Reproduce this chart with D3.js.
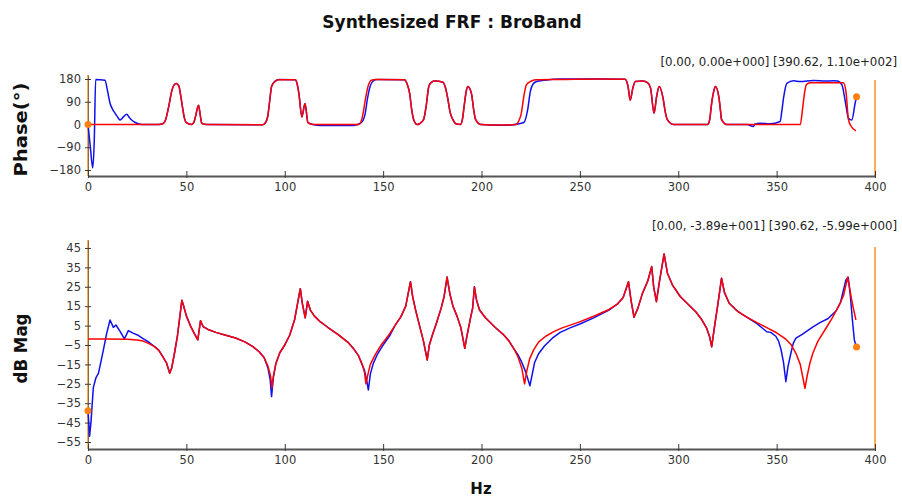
<!DOCTYPE html>
<html>
<head>
<meta charset="utf-8">
<script src="https://cdn.jsdelivr.net/npm/d3@7"></script>
<style>
  html, body { margin: 0; padding: 0; background: #fff; }
  svg { display: block; }
  text { font-family: "DejaVu Sans", Verdana, sans-serif; }
</style>
</head>
<body>
<svg id="chart" width="902" height="499"></svg>
<script>
// ---------- DATA ----------
const title = "Synthesized FRF : BroBand";
const xLabel = "Hz";
const phaseLabel = "Phase(°)";
const magLabel = "dB Mag";
const phaseCursorText = "[0.00, 0.00e+000] [390.62, 1.10e+002]";
const magCursorText = "[0.00, -3.89e+001] [390.62, -5.99e+000]";

const xTicks = [0, 50, 100, 150, 200, 250, 300, 350, 400];
const phaseTicks = [-180, -90, 0, 90, 180];
const magTicks = [-55, -45, -35, -25, -15, -5, 5, 15, 25, 35, 45];

// cursor points [Hz, value]
const phaseCursors = [[0, 0], [390.62, 110]];
const magCursors = [[0, -38.9], [390.62, -5.99]];

// Phase, synthesized (red) [Hz, deg]
const phaseRed = [[0,0],[36,0],[38,3],[39.5,20],[41,70],[42.5,130],[43.6,155],[44.9,162],[46.2,152],[47.2,110],[48,70],[49,25],[50,7],[52.6,0],[53.8,8],[54.6,30],[56.2,76],[57,40],[57.8,5],[60.4,0],
 [88.7,-1],[90,5],[91.3,30],[92.3,90],[93.3,150],[95.1,170],[97,177],[105.4,177],[106.3,160],[107.2,122],[108.7,30],[110.3,83],[111.8,7],[114.4,0],
 [137.7,0],[138.8,12],[139.8,43],[141,100],[142.3,150],[144.1,175],[146,178],[160.9,177],[162.2,160],[163.5,122],[164.5,60],[165.5,20],[167.3,0],[168.5,3],[170.6,20],[172,80],[173.2,150],[174.5,167],[176.3,172],[180.2,168],[181.5,150],[182.8,105],[184,50],[185.4,20],[187,3],[189.3,0],[190.3,20],[191.3,80],[192.2,130],[193.1,150],[194.9,122],[196,60],[197,20],[199.6,0],
 [210,-2],[217.6,0],[219,15],[220.2,43],[221.5,110],[222.8,157],[225.4,172],[228,177],[240,178],[260,180],[273,179],[274.5,150],[275.6,96],[276.8,140],[278.2,170],[282,172],[284.5,165],[285.9,145],[287.7,45],[289,110],[290.3,150],[292.3,103],[293.4,50],[294.4,20],[297.5,0],
 [315,0],[316,20],[316.9,80],[318,130],[318.9,150],[320.7,105],[321.4,60],[322,20],[324.6,0],
 [362,0],[363.3,70],[364.2,125],[365.1,157],[367,165],[383.9,165],[385.2,133],[386.5,20],[387.7,-5],[390.3,-25]];

// Phase, measured (blue) [Hz, deg]
const phaseBlue = [[0,0],[1.2,-90],[2.4,-172],[3.2,-60],[3.9,178],[8.6,175],[10,130],[11.2,84],[12.5,60],[13.7,45],[15,30],[16.3,18],[18,30],[19.7,41],[21,28],[22.2,18],[24,8],[26.5,1],[28,0],
 [36,0],[38,3],[39.5,20],[41,70],[42.5,130],[43.6,155],[44.9,162],[46.2,152],[47.2,110],[48,70],[49,25],[50,7],[52.6,0],[53.8,8],[54.6,30],[56.2,76],[57,40],[57.8,5],[60.4,0],
 [88.7,-1],[90,5],[91.3,30],[92.3,90],[93.3,150],[95.1,172],[97,178],[105.4,177],[106.3,160],[107.2,122],[108.7,30],[110.3,83],[111.8,7],[114.4,0],
 [118,-4],[135,-4],[138.5,5],[140,20],[140.8,40],[142,100],[143,140],[145,172],[147,178],[160.9,177],[162.2,160],[163.5,122],[164.5,60],[165.5,20],[167.3,0],[168.5,3],[170.6,20],[172,80],[173.2,150],[174.5,167],[176.3,172],[180.2,168],[181.5,150],[182.8,105],[184,50],[185.4,20],[187,3],[189.3,0],[190.3,20],[191.3,80],[192.2,130],[193.1,150],[194.9,122],[196,60],[197,20],[199.6,0],
 [210,-3],[215,-2],[219,3],[221.5,8],[223.5,60],[224.8,130],[226.2,160],[228,170],[232,175],[240,180],[260,180],[273,179],[274.5,150],[275.6,96],[276.8,140],[278.2,170],[282,172],[284.5,165],[285.9,145],[287.7,45],[289,110],[290.3,150],[292.3,103],[293.4,50],[294.4,20],[297.5,0],
 [315,0],[316,20],[316.9,80],[318,130],[318.9,150],[320.7,105],[321.4,60],[322,20],[324.6,0],
 [335,0],[338.2,-8],[339,2],[341.6,5],[346.7,3],[351.8,12],[352.6,50],[353.5,104],[355.2,163],[358.6,173],[362,170],[368.7,174],[375,172],[378.9,173],[381,172],[383.2,157],[384.9,91],[386.5,25],[388.2,18],[389.9,84],[390.62,110]];

// Magnitude, synthesized (red) [Hz, dB]
const magRed = [[0,-1.9],[10,-1.9],[20,-2.0],[25,-2.4],[28,-3],[31,-4.3],[34,-6],[36,-7.8],[38,-11],[40,-14.5],[41.5,-19.5],[42.5,-17],[44,-9],[45.5,0],[47.7,18],[48.5,15.5],[50,10],[52,5],[54,1],[55.8,-2.4],[57.2,7.5],[58.5,4.5],[61,3],[65,1.5],[70,0],[75,-1.4],[80,-3.5],[84,-6],[87,-8.5],[89.5,-11.5],[91.5,-16],[92.8,-21],[93.5,-27],[94.2,-21],[95.5,-14.5],[97.5,-9],[100,-5],[102.5,0],[105,8],[107.9,24],[109,16],[110.4,9],[111.6,17.5],[113,13],[115,10],[118,7],[122,4],[127,0.5],[132,-3.5],[135,-7],[137.5,-10.5],[139.5,-15.5],[140.5,-19],[141.3,-25],[142.3,-20],[143.5,-15],[146,-10],[149,-5],[152.8,0],[156,5],[159,9.5],[161.5,15],[163.9,27.6],[165,20],[166.5,13],[168.5,5],[170.5,-3],[172.4,-12.7],[173.5,-5],[175,0],[177,6],[179.5,14],[181,20],[182.5,30],[184,21],[185.5,15],[187.5,10],[189.5,4],[191.5,-6.7],[192.5,-1],[194.4,8.8],[195.5,14],[196.4,25],[197.5,18],[199,13],[202,9],[207,4],[211,0.5],[214,-3],[216.5,-7],[218.5,-11],[220.5,-17],[221.9,-25],[223,-18.5],[224.5,-12],[226.5,-7.5],[229,-3.5],[232.6,-0.5],[237,2],[241,3.8],[249.5,6.8],[257,9.8],[264.8,13.3],[269,16],[272,19.5],[274.7,27.6],[276,18],[277.5,9.3],[279.5,14],[281.8,21.6],[284.5,28],[286.5,35.4],[287.5,25],[288.9,17.3],[290.5,28],[292.8,41.9],[294.5,32],[297,26],[301,20],[305.5,15.5],[309,12],[312,8],[314.5,3.5],[316,-1],[317,-5.9],[318.5,5],[320,15],[322,29.4],[323.5,22],[325.9,16.5],[330,12.5],[334.4,9.6],[340,6.5],[344.5,4.2],[350,1.3],[354.7,-2],[357.5,-5],[359.8,-9.3],[362,-15],[364.4,-27.3],[365.5,-21],[367,-14],[368.5,-9],[371,-3],[375,3.5],[378,8.5],[381.8,15.5],[384,20.5],[386.1,29.9],[387,25],[388,19],[389.2,13],[390.3,7.9]];

// Magnitude, measured (blue) [Hz, dB]
const magBlue = [[0,-38.9],[0.8,-52],[1.5,-45],[2.7,-27],[4,-22],[5.3,-19.6],[6.5,-14],[7.8,-7.6],[9.5,1],[11.2,7.9],[12.9,4.1],[14.2,5.3],[16.3,2],[18.5,-1.9],[20.5,2.4],[23.1,1],[25.5,0],[28.2,-1.9],[31,-3.6],[34,-6],[36,-7.8],[38,-11],[40,-14.5],[41.5,-19.5],[42.5,-17],[44,-9],[45.5,0],[47.7,18],[48.5,15.5],[50,10],[52,5],[54,1],[55.8,-2.4],[57.2,7.5],[58.5,4.5],[61,3],[65,1.5],[70,0],[75,-1.4],[80,-3.5],[84,-6],[87,-8.5],[89.5,-11.5],[91.5,-17],[92.6,-23],[93.3,-31.6],[94.2,-22],[95.5,-14.5],[97.5,-9],[100,-5],[102.5,0],[105,8],[107.9,24],[109,16],[110.4,9],[111.6,17.5],[113,13],[115,10],[118,7],[122,4],[127,0.5],[132,-3.5],[135,-7],[137.5,-10.5],[139.5,-15.5],[140.5,-18],[141.5,-22.5],[142.5,-28.2],[143.5,-20],[145,-14.5],[147,-10],[150,-5],[153.5,0],[156,5],[159,9.5],[161.5,15],[163.9,27.6],[165,20],[166.5,13],[168.5,5],[170.5,-3],[172.4,-12.7],[173.5,-5],[175,0],[177,6],[179.5,14],[181,20],[182.5,30],[184,21],[185.5,15],[187.5,10],[189.5,4],[191.5,-6.7],[192.5,-1],[194.4,8.8],[195.5,14],[196.4,25],[197.5,18],[199,13],[202,9],[207,4],[211,0.5],[214,-3],[216.5,-7],[218.5,-10],[220.5,-14],[222.5,-19],[224.6,-26],[225.8,-20],[227,-14],[229,-9.5],[232,-5.5],[236,-1.5],[240,1.5],[245,3.8],[250,5.8],[257,9],[264.8,13],[269,16],[272,19.5],[274.7,27.6],[276,18],[277.5,9.3],[279.5,14],[281.8,21.6],[284.5,28],[286.5,35.4],[287.5,25],[288.9,17.3],[290.5,28],[292.8,41.9],[294.5,32],[297,26],[301,20],[305.5,15.5],[309,12],[312,8],[314.5,3.5],[316,-1],[317,-5.9],[318.5,5],[320,15],[322,29.4],[323.5,22],[325.9,16.5],[330,12.5],[334.4,9.6],[340,6],[343,3.5],[345,1.8],[347,1.5],[349.6,-0.5],[351,-3],[352.2,-7.2],[353.5,-14],[354.7,-23.9],[355.8,-16],[357.3,-9],[358.5,-4],[359.8,-1.5],[363,0.5],[368.3,4.2],[372,6.5],[376,8.5],[380.2,12.5],[382.5,17],[385.2,28.5],[386.4,29.9],[387.5,20],[388.5,8],[389.5,-2.4],[390.62,-5.99]];

// ---------- DRAW ----------
const svg = d3.select("#chart");
const BLUE = "#1010ee", RED = "#ff0000", ORANGE = "#f7941d", AXIS = "#3a3a3a";

const x = d3.scaleLinear().domain([0, 400]).range([88, 875]);
const yP = d3.scaleLinear().domain([-203.7, 195.8]).range([176, 75]);
const yM = d3.scaleLinear().domain([-58.6, 49.1]).range([449, 240]);

svg.append("text").attr("x", 452).attr("y", 28).attr("text-anchor", "middle")
  .attr("font-size", 17).attr("font-weight", "bold").attr("fill", "#111").text(title);

function panel(y, yTicks, red, blue, cursors, cursorText, textY, label, labelLen, rightTop, curve) {
  const g = svg.append("g");
  const [yBottom, yTop] = y.range();
  g.append("line").attr("x1", x(0)).attr("x2", x(0)).attr("y1", yTop).attr("y2", yBottom)
    .attr("stroke", ORANGE).attr("stroke-width", 1.5);
  g.append("line").attr("x1", x(400)).attr("x2", x(400)).attr("y1", rightTop).attr("y2", yBottom)
    .attr("stroke", ORANGE).attr("stroke-width", 1.5);

  const ya = g.append("g").attr("transform", `translate(${x(0)},0)`)
    .call(d3.axisLeft(y).tickValues(yTicks).tickSize(3).tickSizeOuter(0).tickPadding(4));
  ya.select(".domain").attr("stroke", AXIS).attr("stroke-width", 0.6);
  ya.selectAll(".tick line").attr("x1", 3).attr("stroke", AXIS);
  ya.selectAll(".tick text").attr("font-size", 11.5).attr("fill", "#333")
    .attr("font-family", "DejaVu Sans, sans-serif");

  const xa = g.append("g").attr("transform", `translate(0,${yBottom})`)
    .call(d3.axisBottom(x).tickValues(xTicks).tickSizeInner(-5).tickSizeOuter(0).tickPadding(7));
  xa.select(".domain").attr("stroke", "#555").attr("stroke-width", 2);
  xa.selectAll(".tick line").attr("y2", -5).attr("y1", 2).attr("stroke", AXIS);
  xa.selectAll(".tick text").attr("font-size", 11.5).attr("fill", "#333")
    .attr("font-family", "DejaVu Sans, sans-serif");

  const line = d3.line().x(d => x(d[0])).y(d => y(d[1])).curve(curve);
  g.append("path").datum(blue).attr("d", line).attr("fill", "none")
    .attr("stroke", BLUE).attr("stroke-width", 1.5).attr("stroke-linejoin", "round");
  g.append("path").datum(red).attr("d", line).attr("fill", "none")
    .attr("stroke", RED).attr("stroke-width", 1.5).attr("stroke-linejoin", "round");

  g.selectAll("circle.cur").data(cursors).join("circle").attr("class", "cur")
    .attr("cx", d => x(d[0])).attr("cy", d => y(d[1])).attr("r", 3.5).attr("fill", "#ff7f11");

  g.append("text").attr("x", 897).attr("y", textY).attr("text-anchor", "end")
    .attr("font-size", 11.8).attr("fill", "#222").text(cursorText);

  const cy = (yTop + yBottom) / 2 + 4;
  g.append("text").attr("transform", `translate(27,${cy}) rotate(-90)`)
    .attr("text-anchor", "middle").attr("font-size", 17).attr("font-weight", "bold")
    .attr("textLength", labelLen).attr("lengthAdjust", "spacingAndGlyphs")
    .attr("fill", "#111").text(label);
}

panel(yP, phaseTicks, phaseRed, phaseBlue, phaseCursors, phaseCursorText, 66, phaseLabel, 94, 80, d3.curveMonotoneX);
panel(yM, magTicks, magRed, magBlue, magCursors, magCursorText, 229.5, magLabel, 70, 247, d3.curveLinear);

svg.append("text").attr("x", 481).attr("y", 494).attr("text-anchor", "middle")
  .attr("font-size", 15).attr("font-weight", "bold").attr("fill", "#111").text(xLabel);
</script>
</body>
</html>
